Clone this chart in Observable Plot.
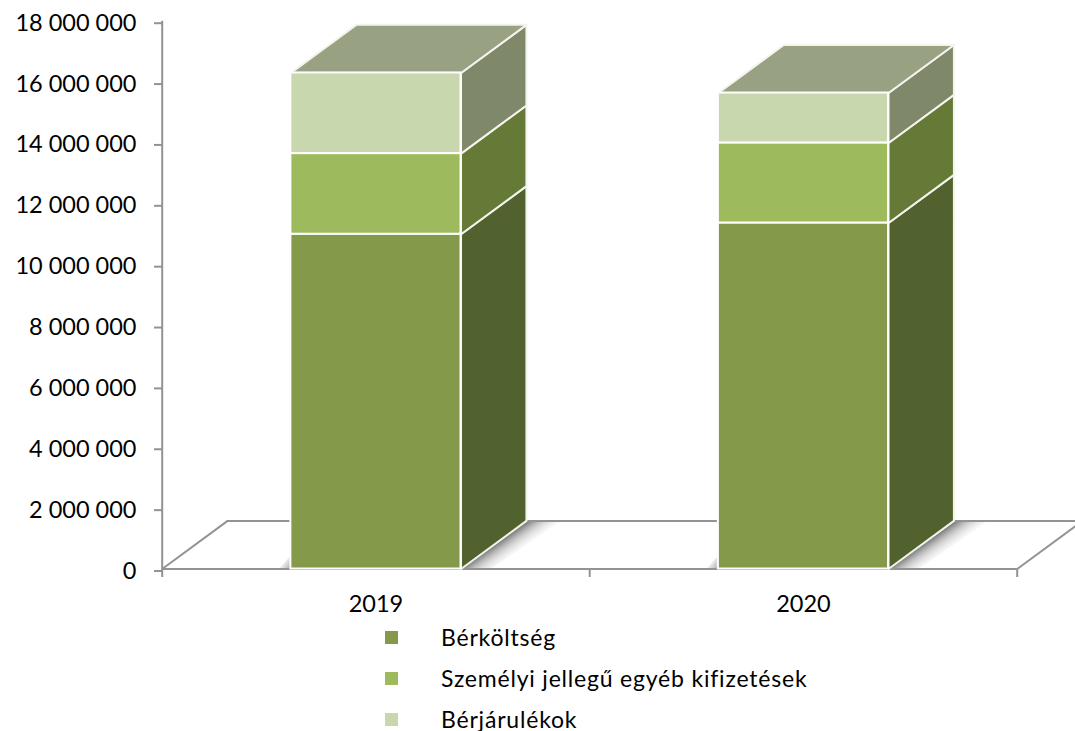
<!DOCTYPE html>
<html><head><meta charset="utf-8">
<script src="https://cdn.jsdelivr.net/npm/d3@7"></script>
<script src="https://cdn.jsdelivr.net/npm/@observablehq/plot@0.6"></script>
<style>
html,body{margin:0;padding:0;background:#fff;overflow:hidden;}
#chart svg{display:block;}
#legend{position:relative;font-family:Lato,sans-serif;font-size:23px;letter-spacing:.8px;color:#000;height:121px;}
.row{position:absolute;left:441px;height:28px;line-height:28px;white-space:nowrap;}
.sw{position:absolute;left:385px;width:13px;height:13px;}
</style></head><body>
<svg width="0" height="0" style="position:absolute">
<defs>
<linearGradient id="shadowGrad" x1="0.34" y1="0.5" x2="0.62" y2="0.69">
<stop offset="0" stop-color="#7c7c7c"/><stop offset="0.3" stop-color="#b0b0b0" stop-opacity="0.75"/><stop offset="1" stop-color="#fff" stop-opacity="0"/>
</linearGradient>
<linearGradient id="shadowLeft" x1="1" y1="1" x2="0" y2="0.2">
<stop offset="0" stop-color="#999"/><stop offset="1" stop-color="#fff" stop-opacity="0"/>
</linearGradient>
</defs></svg>
<div id="chart"></div>
<div id="legend"></div>
<script>
const years = ["2019","2020"];
const series = ["Bérköltség","Személyi jellegű egyéb kifizetések","Bérjárulékok"];
const berkoltseg = [11000000, 11370000];
const szemelyi = [2650000, 2630000];
const berjarulek = [2650000, 1640000];
const frontColors = ["#84994a","#9dbb5d","#c9d7ae"];
const sideColors = ["#52622f","#667a37","#80886a"];
const topColor = "#98a282";
const yTicks = [0,2,4,6,8,10,12,14,16,18].map(d=>d*1e6);
const barHalf = 0.199, depthX = 0.153, depthY = 1580000, axisColor = "#939393";

const values = [berkoltseg, szemelyi, berjarulek];
const fronts = [], polys = [];
years.forEach((yr,i)=>{
  const c = i+0.5, l = c-barHalf, r = c+barHalf;
  let base = 0;
  values.forEach((vals,s)=>{
    const t = base+vals[i];
    fronts.push({x1:l,x2:r,y1:base,y2:t,fill:frontColors[s]});
    [[r,base],[r+depthX,base+depthY],[r+depthX,t+depthY],[r,t]].forEach(p=>polys.push({id:`side${i}${s}`,x:p[0],y:p[1],fill:sideColors[s]}));
    base = t;
  });
  [[l,base],[l+depthX,base+depthY],[r+depthX,base+depthY],[r,base]].forEach(p=>polys.push({id:`top${i}`,x:p[0],y:p[1],fill:topColor}));
});
const floor = [[0,0],[depthX,depthY],[2+depthX,depthY],[2,0]].map(p=>({x:p[0],y:p[1]}));
const shadows = years.flatMap((yr,i)=>{
  const r=i+0.5+barHalf;
  return [[r,0],[r+depthX,depthY],[r+depthX+0.08,depthY],[r+0.07,0]].map(p=>({id:"s"+i,x:p[0],y:p[1]}));
});
const shadowsLeft = years.flatMap((yr,i)=>{
  const l=i+0.5-barHalf;
  return [[l,0],[l,450000],[l-0.028,0]].map(p=>({id:"l"+i,x:p[0],y:p[1]}));
});
const fmt = d=>d3.format(",")(d).replace(/,/g," ");

const plot = Plot.plot({
  width:1075,height:610,marginLeft:162,marginRight:58,marginTop:20,marginBottom:41,
  style:{fontFamily:"Lato,sans-serif",background:"#fff",color:"#000",overflow:"visible"},
  x:{domain:[0,2],range:[161.7,1016.7]},
  y:{domain:[0,18000000],range:[568.5,20.7]},
  color:{type:"identity"},
  marks:[
    Plot.line(shadows,{x:"x",y:"y",z:"id",curve:"linear-closed",fill:"url(#shadowGrad)",stroke:"none"}),
    Plot.line(shadowsLeft,{x:"x",y:"y",z:"id",curve:"linear-closed",fill:"url(#shadowLeft)",stroke:"none"}),
    Plot.line(floor,{x:"x",y:"y",stroke:axisColor,strokeWidth:2}),
    Plot.ruleY([0],{x1:0,x2:2,stroke:axisColor,strokeWidth:2}),
    Plot.ruleX([0],{y1:0,y2:18000000,stroke:axisColor,strokeWidth:2}),
    Plot.line(polys,{x:"x",y:"y",z:"id",curve:"linear-closed",fill:"fill",stroke:"#f4f4ee",strokeWidth:2}),
    Plot.rect(fronts,{x1:"x1",x2:"x2",y1:"y1",y2:"y2",fill:"fill",stroke:"#fff",strokeWidth:2}),
    Plot.axisY({ticks:yTicks,tickFormat:fmt,tickSize:8,tickPadding:18,stroke:axisColor,strokeWidth:2,fontSize:23.5,anchor:"left",label:null,dy:2}),
    Plot.axisX({ticks:[0,1,2],tickFormat:()=>"",tickSize:8,stroke:axisColor,strokeWidth:2,label:null,anchor:"bottom"}),
    Plot.axisX({ticks:[0.5,1.5],tickFormat:d=>years[d-0.5],tickSize:0,tickPadding:26,fontSize:23.5,label:null,anchor:"bottom"})
  ]
});
document.getElementById("chart").append(plot);
const lg=document.getElementById("legend");
series.forEach((s,i)=>{
  const cy=[27,68,109][i];
  const sw=document.createElement("div");sw.className="sw";sw.style.top=(cy-6.5)+"px";sw.style.background=frontColors[i];
  const t=document.createElement("div");t.className="row";t.style.top=(cy-14)+"px";t.textContent=s;
  lg.append(sw,t);
});
</script></body></html>
